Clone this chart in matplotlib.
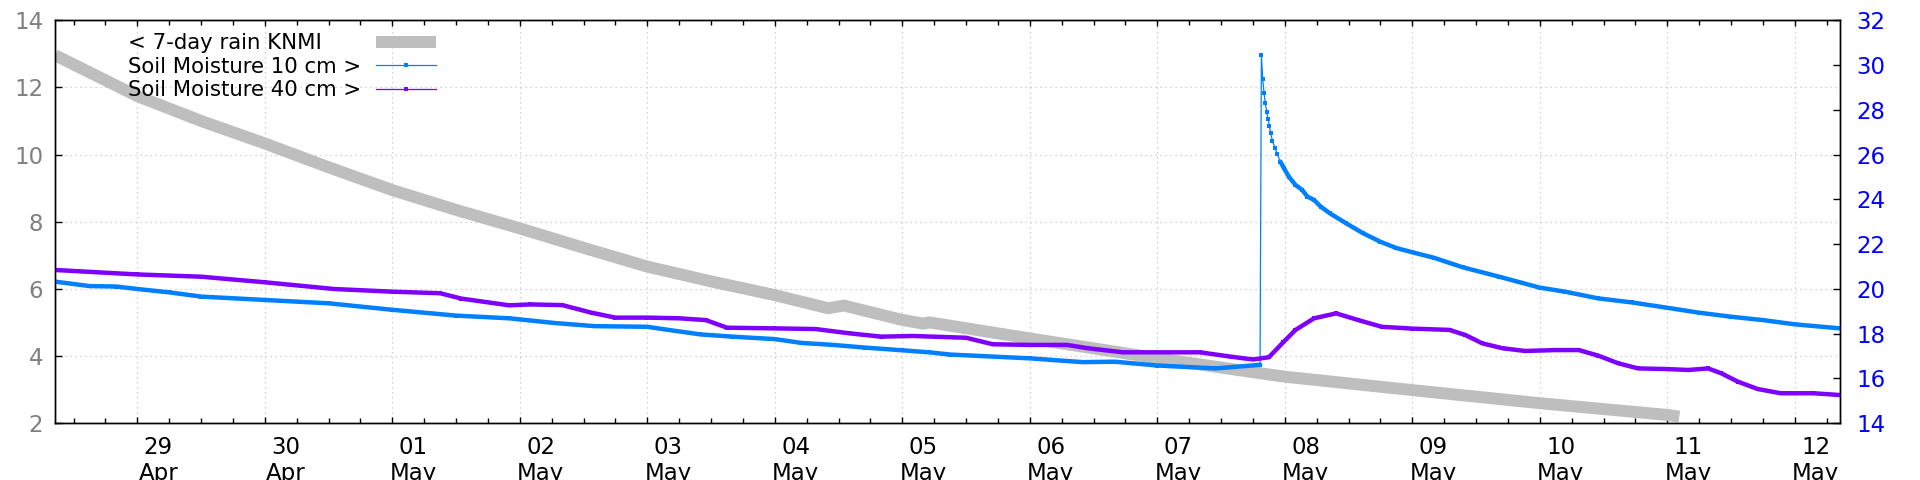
import matplotlib
matplotlib.use("Agg")
import matplotlib.pyplot as plt
import matplotlib.dates as mdates
import matplotlib.transforms as mtransforms
import numpy as np
import pandas as pd

# 7-day rain sum (left axis)
rain_time = ["2024-04-28 08:30", "2024-04-29 00:00", "2024-04-29 12:00", "2024-04-30 00:00",
             "2024-04-30 12:00", "2024-05-01 00:00", "2024-05-01 12:00", "2024-05-02 00:00",
             "2024-05-02 12:00", "2024-05-03 00:00", "2024-05-03 12:00", "2024-05-04 00:00",
             "2024-05-04 10:00", "2024-05-04 13:00", "2024-05-05 00:00", "2024-05-05 04:00",
             "2024-05-05 05:00", "2024-05-06 00:00", "2024-05-07 00:00", "2024-05-07 19:30",
             "2024-05-08 00:00", "2024-05-09 00:00", "2024-05-10 00:00", "2024-05-11 00:00",
             "2024-05-11 02:15"]
rain_mm = [12.96, 11.74, 11.00, 10.33, 9.62, 8.94, 8.35, 7.80, 7.22, 6.66, 6.22, 5.81,
           5.42, 5.50, 5.07, 4.96, 5.00, 4.52, 3.93, 3.48, 3.38, 2.98, 2.59, 2.24, 2.19]

# soil moisture 10 cm (right axis)
m10_time = ["2024-04-28 08:30", "2024-04-28 15:00", "2024-04-28 20:00", "2024-04-29 00:00",
            "2024-04-29 06:00", "2024-04-29 12:00", "2024-04-30 00:00", "2024-04-30 12:00",
            "2024-05-01 00:00", "2024-05-01 12:00", "2024-05-01 22:00", "2024-05-02 06:30",
            "2024-05-02 14:00", "2024-05-03 00:00", "2024-05-03 04:00", "2024-05-03 10:00",
            "2024-05-03 16:00", "2024-05-04 00:00", "2024-05-04 05:00", "2024-05-04 11:00",
            "2024-05-04 17:00", "2024-05-05 00:00", "2024-05-05 05:00", "2024-05-05 09:00",
            "2024-05-06 00:00", "2024-05-06 10:00", "2024-05-06 16:00", "2024-05-07 00:00",
            "2024-05-07 11:00", "2024-05-07 19:20",
            "2024-05-07 19:35", "2024-05-07 19:50", "2024-05-07 20:05", "2024-05-07 20:20",
            "2024-05-07 20:35", "2024-05-07 20:50", "2024-05-07 21:05", "2024-05-07 21:20",
            "2024-05-07 21:40", "2024-05-07 22:10", "2024-05-07 22:35", "2024-05-07 23:10",
            "2024-05-07 23:50", "2024-05-08 00:45", "2024-05-08 02:00", "2024-05-08 03:15",
            "2024-05-08 04:15", "2024-05-08 05:30", "2024-05-08 06:45", "2024-05-08 08:30",
            "2024-05-08 11:30", "2024-05-08 14:40", "2024-05-08 18:00", "2024-05-08 21:00",
            "2024-05-09 00:00", "2024-05-09 04:00", "2024-05-09 09:30", "2024-05-09 16:20",
            "2024-05-10 00:00", "2024-05-10 04:45", "2024-05-10 11:00", "2024-05-10 17:20",
            "2024-05-11 00:00", "2024-05-11 06:00", "2024-05-11 12:00", "2024-05-11 18:00",
            "2024-05-12 00:00", "2024-05-12 08:30"]
m10_value = [20.32, 20.12, 20.10, 19.99, 19.84, 19.65, 19.50, 19.35, 19.06, 18.80, 18.68, 18.47,
             18.33, 18.30, 18.16, 17.96, 17.86, 17.75, 17.58, 17.49, 17.37, 17.25, 17.16, 17.06,
             16.89, 16.72, 16.74, 16.57, 16.44, 16.60,
             30.45, 29.38, 28.74, 28.29, 27.89, 27.59, 27.29, 26.95, 26.61, 26.28, 26.01, 25.68,
             25.39, 25.01, 24.64, 24.42, 24.12, 23.97, 23.67, 23.37, 22.93, 22.49, 22.10, 21.82,
             21.63, 21.39, 20.96, 20.54, 20.05, 19.87, 19.57, 19.39, 19.15, 18.93, 18.75, 18.60,
             18.41, 18.23]

# soil moisture 40 cm (right axis)
m40_time = ["2024-04-28 08:30", "2024-04-29 00:00", "2024-04-29 12:00", "2024-04-30 00:00",
            "2024-04-30 13:00", "2024-05-01 00:00", "2024-05-01 09:00", "2024-05-01 13:00",
            "2024-05-01 22:00", "2024-05-02 02:00", "2024-05-02 08:00", "2024-05-02 13:30",
            "2024-05-02 18:00", "2024-05-03 00:00", "2024-05-03 06:00", "2024-05-03 11:00",
            "2024-05-03 15:00", "2024-05-04 00:00", "2024-05-04 07:40", "2024-05-04 14:00",
            "2024-05-04 20:00", "2024-05-05 02:00", "2024-05-05 12:00", "2024-05-05 17:00",
            "2024-05-06 00:00", "2024-05-06 07:00", "2024-05-06 11:00", "2024-05-06 17:30",
            "2024-05-07 08:00", "2024-05-07 14:00", "2024-05-07 18:00", "2024-05-07 21:00",
            "2024-05-07 23:40", "2024-05-08 02:00", "2024-05-08 05:30", "2024-05-08 09:40",
            "2024-05-08 13:50", "2024-05-08 18:15", "2024-05-09 00:00", "2024-05-09 07:00",
            "2024-05-09 10:00", "2024-05-09 13:10", "2024-05-09 17:00", "2024-05-09 21:15",
            "2024-05-10 03:00", "2024-05-10 07:20", "2024-05-10 11:00", "2024-05-10 14:45",
            "2024-05-10 18:30", "2024-05-11 00:00", "2024-05-11 04:00", "2024-05-11 07:40",
            "2024-05-11 10:10", "2024-05-11 13:15", "2024-05-11 17:00", "2024-05-11 21:20",
            "2024-05-12 03:30", "2024-05-12 08:30"]
m40_value = [20.84, 20.64, 20.54, 20.29, 19.99, 19.87, 19.80, 19.56, 19.26, 19.30, 19.27, 18.93,
             18.71, 18.71, 18.68, 18.60, 18.26, 18.23, 18.20, 18.01, 17.86, 17.89, 17.81, 17.52,
             17.49, 17.49, 17.34, 17.16, 17.16, 16.96, 16.84, 16.94, 17.60, 18.16, 18.68, 18.90,
             18.60, 18.30, 18.22, 18.16, 17.93, 17.56, 17.34, 17.22, 17.26, 17.26, 17.01, 16.67,
             16.44, 16.41, 16.37, 16.44, 16.22, 15.85, 15.52, 15.33, 15.33, 15.25]

x_start, x_end = "2024-04-28 08:30", "2024-05-12 08:30"

c_rain = "#bebebe"
c_10 = "#0080ff"
c_40 = "#8000ff"
band_lw = 3.2

fig = plt.figure(figsize=(19.2, 4.8), dpi=100)
ax = fig.add_axes([55 / 1920, 1 - 423 / 480, 1785 / 1920, 402.7 / 480])
ax2 = ax.twinx()

t_rain = pd.to_datetime(rain_time)
t10 = pd.to_datetime(m10_time)
t40 = pd.to_datetime(m40_time)
v10 = np.array(m10_value)
v40 = np.array(m40_value)

rain_line, = ax.plot(t_rain, rain_mm, color=c_rain, lw=8.6, solid_capstyle="butt", zorder=2)

# the 10-minute samples merge into a thick band; near the jump only the dots show
k = int(np.argmax(v10))
k2 = int(np.searchsorted(t10, pd.Timestamp("2024-05-07 23:10")))
ax2.plot(t10[:k], v10[:k], color=c_10, lw=band_lw, solid_capstyle="round")
ax2.plot(t10[k2:], v10[k2:], color=c_10, lw=band_lw, solid_capstyle="round")
l10, = ax2.plot(t10, v10, color=c_10, lw=0.9, marker="s", ms=2.8, mew=0)
ax2.plot(t40, v40, color=c_40, lw=band_lw, solid_capstyle="round")
l40, = ax2.plot(t40, v40, color=c_40, lw=0.9, marker="s", ms=2.8, mew=0)

ax.set_xlim(pd.Timestamp(x_start), pd.Timestamp(x_end))
ax.set_ylim(2, 14)
ax2.set_ylim(14, 32)
ax.set_yticks(np.arange(2, 15, 2))
ax2.set_yticks(np.arange(14, 33, 2))

ax.xaxis.set_major_locator(mdates.DayLocator())
ax.xaxis.set_minor_locator(mdates.HourLocator(byhour=[6, 12, 18]))
ax.xaxis.set_major_formatter(mdates.DateFormatter("%d\n%b"))

ax.grid(True, which="major", color="#c4c4c4", linestyle=(0, (1, 3)), lw=0.9)
ax.set_axisbelow(True)

ax.tick_params(axis="x", which="major", direction="in", top=True, length=4.5, width=1,
               labelsize=16.5, pad=9, labelcolor="black")
ax.tick_params(axis="x", which="minor", direction="in", top=True, length=3.5, width=1)
ax.tick_params(axis="y", direction="in", left=True, right=False, length=5, width=1,
               labelsize=16.5, pad=8.5, labelcolor="#808080")
ax2.tick_params(axis="y", direction="in", length=5, width=1, labelsize=16.5, pad=12,
                labelcolor="#0000ff")
for a in (ax, ax2):
    for s in a.spines.values():
        s.set_linewidth(1.0)

# gnuplot puts the date labels a little right of the midnight tick
shift = mtransforms.ScaledTranslation(0.21, 0, fig.dpi_scale_trans)
for lbl in ax.get_xticklabels():
    lbl.set_transform(lbl.get_transform() + shift)

leg_size = 15.3
labels = ["< 7-day rain KNMI", "Soil Moisture 10 cm >", "Soil Moisture 40 cm >"]
leg = ax2.legend([rain_line, l10, l40], labels, loc="upper left",
                 bbox_to_anchor=(0.0409, 0.968), frameon=False, markerfirst=False,
                 fontsize=leg_size, handlelength=2.8, handletextpad=0.7, labelspacing=0.16,
                 borderpad=0, borderaxespad=0)

# left-align texts and keep handles in one column
fig.canvas.draw()
rend = fig.canvas.get_renderer()
widths = [t.get_window_extent(rend).width for t in leg.get_texts()]
col = leg._legend_handle_box.get_children()[0]
col.align = "left"
for row, w in zip(col.get_children(), widths):
    row.sep = 0.7 * leg_size + (max(widths) - w) * 72 / fig.dpi

fig.savefig("out.png", dpi=100)
